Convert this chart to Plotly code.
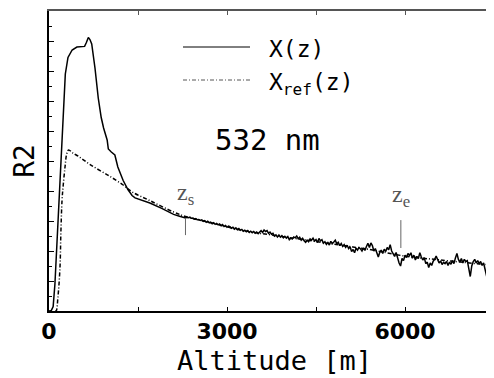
import plotly.graph_objects as go

# ---------------- data ----------------
# X(z): low-altitude part (altitude in m, relative value)
x_low_alt = [0, 40, 70, 100, 150, 200, 250, 275, 320, 390, 470, 560, 600, 630, 663, 690,
             720, 775, 830, 880, 920, 980, 1000, 1050, 1110, 1160, 1250, 1330, 1400, 1450,
             1550, 1700, 1900, 2100, 2200, 2250, 2275]
x_low_val = [0.0, 0.002, 0.015, 0.09, 0.29, 0.49, 0.69, 0.79, 0.845, 0.87, 0.88, 0.88, 0.882, 0.895, 0.912, 0.905,
             0.89, 0.81, 0.71, 0.645, 0.61, 0.57, 0.54, 0.53, 0.52, 0.48, 0.435, 0.405, 0.385, 0.377,
             0.37, 0.36, 0.342, 0.322, 0.316, 0.313, 0.309]

# X(z): noisy part, 2300 m .. 7500 m every 25 m
x_noisy_alt = list(range(2300, 7501, 25))
x_noisy_val = [
    0.310, 0.312, 0.311, 0.313, 0.309, 0.310, 0.306, 0.308, 0.304, 0.305,
    0.302, 0.304, 0.299, 0.301, 0.296, 0.299, 0.294, 0.296, 0.291, 0.294,
    0.289, 0.292, 0.287, 0.290, 0.284, 0.288, 0.282, 0.285, 0.279, 0.283,
    0.281, 0.276, 0.279, 0.273, 0.277, 0.271, 0.275, 0.269, 0.272, 0.266,
    0.269, 0.264, 0.268, 0.262, 0.266, 0.261, 0.265, 0.259, 0.263, 0.258,
    0.264, 0.268, 0.262, 0.270, 0.265, 0.268, 0.259, 0.263, 0.256, 0.259,
    0.250, 0.254, 0.247, 0.253, 0.246, 0.251, 0.244, 0.249, 0.243, 0.248,
    0.238, 0.243, 0.240, 0.247, 0.244, 0.250, 0.241, 0.246, 0.236, 0.242,
    0.234, 0.229, 0.236, 0.231, 0.240, 0.236, 0.243, 0.233, 0.238, 0.228,
    0.242, 0.234, 0.238, 0.226, 0.231, 0.222, 0.228, 0.220, 0.232, 0.225,
    0.230, 0.236, 0.224, 0.229, 0.218, 0.225, 0.215, 0.221, 0.212, 0.219,
    0.208, 0.214, 0.198, 0.205, 0.194, 0.210, 0.203, 0.212, 0.207, 0.200,
    0.210, 0.202, 0.215, 0.226, 0.212, 0.227, 0.218, 0.200, 0.208, 0.190,
    0.180, 0.196, 0.203, 0.192, 0.206, 0.198, 0.212, 0.204, 0.221, 0.200,
    0.193, 0.182, 0.195, 0.172, 0.160, 0.150, 0.175, 0.168, 0.186, 0.178,
    0.192, 0.185, 0.194, 0.176, 0.186, 0.170, 0.182, 0.175, 0.194, 0.180,
    0.170, 0.178, 0.158, 0.163, 0.145, 0.160, 0.152, 0.166, 0.172, 0.183,
    0.168, 0.160, 0.167, 0.155, 0.162, 0.158, 0.165, 0.152, 0.163, 0.156,
    0.168, 0.158, 0.177, 0.192, 0.172, 0.163, 0.175, 0.160, 0.172, 0.165,
    0.168, 0.140, 0.115, 0.150, 0.165, 0.172, 0.160, 0.168, 0.158, 0.165,
    0.152, 0.160, 0.140, 0.125, 0.095, 0.130, 0.145, 0.138, 0.145,
]
assert len(x_noisy_alt) == len(x_noisy_val)

# X_ref(z)
ref_alt = [100, 120, 150, 185, 200, 220, 240, 270, 300, 330, 400, 500, 700, 1000, 1250, 1400,
           1700, 2100, 2300, 2750, 3300, 3800, 4350, 4900, 5400, 6000, 6600, 7500]
ref_val = [0.0, 0.0, 0.045, 0.145, 0.26, 0.37, 0.42, 0.48, 0.525, 0.537, 0.527, 0.515, 0.487, 0.452, 0.42, 0.397,
           0.368, 0.33, 0.315, 0.293, 0.267, 0.252, 0.236, 0.22, 0.205, 0.183, 0.17, 0.152]

# markers z_s and z_e
marker_alt = [2300, 5930]
marker_lo = [0.253, 0.21]
marker_hi = [0.31, 0.303]
marker_lbl = ["z<sub>s</sub>", "z<sub>e</sub>"]

x_ticks = [0, 3000, 6000]
x_ticktext = ["0", "3000", "6000"]

# ---------------- figure ----------------
# page body has an 8 px margin, so the figure is shrunk to land where the reference is
OFF = 8
W, H = 494 - OFF, 378 - OFF
ML, MR, MT, MB = 49 - OFF, 0, 11 - OFF, 67
PW, PH = W - ML - MR, H - MT - MB

def px2paper(px, py):
    # px, py: pixel coordinates in the 494x378 screenshot
    return (px - OFF - ML) / PW, (H - MB - (py - OFF)) / PH

fig = go.Figure()

fig.add_trace(go.Scatter(x=ref_alt, y=ref_val, mode="lines", line_shape="spline",
                         line=dict(color="black", width=1.5, dash="4px,2px,1px,2px"),
                         showlegend=False, hoverinfo="skip"))
fig.add_trace(go.Scatter(x=x_low_alt + x_noisy_alt, y=x_low_val + x_noisy_val, mode="lines",
                         line=dict(color="black", width=1.5), showlegend=False, hoverinfo="skip"))

for a, lo, hi, lbl in zip(marker_alt, marker_lo, marker_hi, marker_lbl):
    fig.add_shape(type="line", x0=a, x1=a, y0=lo, y1=hi, xref="x", yref="y",
                  line=dict(color="#666666", width=1))
    fig.add_annotation(x=a, y=hi + 0.025, xref="x", yref="y", text=lbl, showarrow=False,
                       xanchor="center", yanchor="bottom",
                       font=dict(family="Liberation Serif", size=24, color="#555555"))

# legend samples
for py, dash, col in [(47, "solid", "black"), (80, "4px,2px,1px,2px", "#555555")]:
    x0, y0 = px2paper(183, py)
    x1, _ = px2paper(250, py)
    fig.add_shape(type="line", xref="paper", yref="paper", x0=x0, x1=x1, y0=y0, y1=y0,
                  line=dict(color=col, width=1, dash=dash))

mono = "DejaVu Sans Mono"
ax, ay = px2paper(267, 49)
fig.add_annotation(x=ax, y=ay, xref="paper", yref="paper", text="X(z)", showarrow=False,
                   xanchor="left", yanchor="middle", font=dict(family=mono, size=23, color="black"))
ax, ay = px2paper(267, 84)
fig.add_annotation(x=ax, y=ay, xref="paper", yref="paper", text="X<sub>ref</sub>(z)", showarrow=False,
                   xanchor="left", yanchor="middle", font=dict(family=mono, size=23, color="black"))
ax, ay = px2paper(213, 140)
fig.add_annotation(x=ax, y=ay, xref="paper", yref="paper", text="532 nm", showarrow=False,
                   xanchor="left", yanchor="middle", font=dict(family=mono, size=29, color="black"))
# x-axis title
ax, ay = px2paper(274, 360)
fig.add_annotation(x=ax, y=ay, xref="paper", yref="paper", text="Altitude [m]", showarrow=False,
                   xanchor="center", yanchor="middle", borderpad=0,
                   font=dict(family=mono, size=27, color="black"))

fig.update_layout(
    width=W, height=H,
    margin=dict(l=ML, r=MR, t=MT, b=MB, autoexpand=False),
    paper_bgcolor="white", plot_bgcolor="white",
    showlegend=False,
    xaxis=dict(range=[0, 7500], tickvals=x_ticks, ticktext=x_ticktext, ticks="inside",
               ticklen=4, tickwidth=1, tickcolor="black", showgrid=False, zeroline=False,
               showline=True, linewidth=2, linecolor="black",
               minor=dict(dtick=1500, tick0=0, ticks="inside", ticklen=4, tickcolor="black", showgrid=False),
               tickfont=dict(family="DejaVu Sans", size=22, color="black", weight="bold")),
    xaxis2=dict(range=[0, 7500], overlaying="x", side="top", tickvals=x_ticks, ticks="inside",
                ticklen=4, tickwidth=1, tickcolor="#555555", showticklabels=False,
                minor=dict(dtick=1500, tick0=0, ticks="inside", ticklen=4, tickcolor="#555555", showgrid=False),
                showgrid=False, zeroline=False, showline=True, linewidth=1.5, linecolor="#555555"),
    yaxis=dict(range=[0, 1], dtick=0.1, tick0=0, ticks="inside", ticklen=5, tickwidth=1,
               tickcolor="black", showticklabels=False, showgrid=False, zeroline=False,
               showline=True, linewidth=2, linecolor="black",
               minor=dict(dtick=0.05, ticks="inside", ticklen=3, tickcolor="black", showgrid=False),
               title=dict(text="R2", font=dict(family=mono, size=28, color="black"), standoff=10)),
)
# invisible trace so the top axis is drawn
fig.add_trace(go.Scatter(x=[0], y=[0], xaxis="x2", mode="markers", marker=dict(opacity=0),
                         showlegend=False, hoverinfo="skip"))

fig.write_html("out.html")
